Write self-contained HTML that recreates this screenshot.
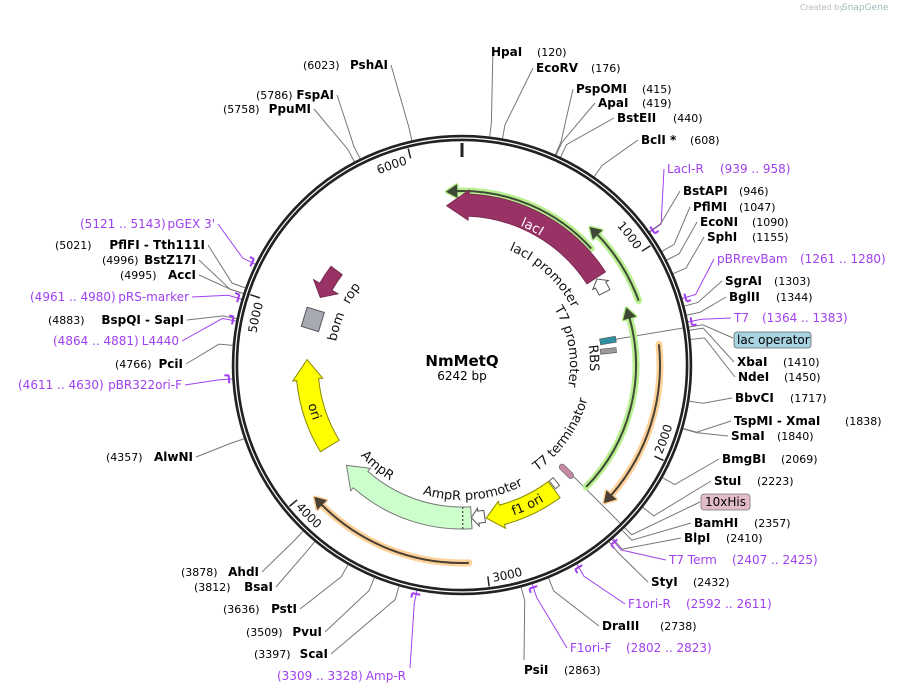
<!DOCTYPE html>
<html><head><meta charset="utf-8"><style>
html,body{margin:0;padding:0;background:#fff;}
svg{display:block;font-family:"DejaVu Sans","Liberation Sans",sans-serif;}
.b{font-weight:bold;font-size:12px;fill:#000;}
.n{font-size:11px;fill:#000;}
.p{font-size:12px;fill:#a040f0;}
.f{font-size:13px;fill:#111;}
.t{font-size:12px;fill:#111;}
</style></head><body>
<svg id="s" width="898" height="694" viewBox="0 0 898 694" xmlns="http://www.w3.org/2000/svg">
<defs id="d"></defs>
<g id="lines"></g>
<g id="feat"></g>
<circle cx="462" cy="365" r="227" fill="none" stroke="#222" stroke-width="6.5"/>
<circle cx="462" cy="365" r="227" fill="none" stroke="#fff" stroke-width="1.2"/>
<g id="ticks"></g>
<g id="marks"></g>
<text x="800" y="10" font-size="8" fill="#bbb">Created by</text><text x="842" y="10" font-size="9" fill="#9bb">SnapGene</text>
<text x="462" y="366" text-anchor="middle" font-weight="bold" font-size="15">NmMetQ</text>
<text x="462" y="380" text-anchor="middle" font-size="12">6242 bp</text>

<text class="t"><textPath href="#tk1" startOffset="100%" text-anchor="end">1000</textPath></text>
<text class="t"><textPath href="#tk6" startOffset="100%" text-anchor="end">6000</textPath></text>
<text class="t"><textPath href="#tk5" startOffset="100%" text-anchor="end">5000</textPath></text>
<text class="t"><textPath href="#tk2">2000</textPath></text>
<text class="t"><textPath href="#tk3">3000</textPath></text>
<text class="t"><textPath href="#tk4">4000</textPath></text>

<text class="f" style="fill:#fff"><textPath href="#lp_lacI" startOffset="50%" text-anchor="middle">lacI</textPath></text>
<text class="f"><textPath href="#lp_lacp" startOffset="50%" text-anchor="middle">lacI promoter</textPath></text>
<text class="f"><textPath href="#lp_t7p" startOffset="50%" text-anchor="middle">T7 promoter</textPath></text>
<text class="f"><textPath href="#lp_rbs" startOffset="50%" text-anchor="middle">RBS</textPath></text>
<text class="f"><textPath href="#lp_t7t" startOffset="50%" text-anchor="middle">T7 terminator</textPath></text>
<text class="f"><textPath href="#lp_ampp" startOffset="50%" text-anchor="middle">AmpR promoter</textPath></text>
<text class="f"><textPath href="#lp_amp" startOffset="50%" text-anchor="middle">AmpR</textPath></text>
<text class="f"><textPath href="#lp_f1" startOffset="50%" text-anchor="middle">f1 ori</textPath></text>
<text class="f"><textPath href="#lp_ori" startOffset="50%" text-anchor="middle">ori</textPath></text>
<text class="f"><textPath href="#lp_bom" startOffset="50%" text-anchor="middle">bom</textPath></text>
<text class="f"><textPath href="#lp_rop" startOffset="50%" text-anchor="middle">rop</textPath></text>

<text class="b" x="491" y="56">HpaI</text><text class="n" x="537" y="56">(120)</text>
<text class="b" x="536" y="72">EcoRV</text><text class="n" x="591" y="72">(176)</text>
<text class="b" x="576" y="93">PspOMI</text><text class="n" x="642" y="93">(415)</text>
<text class="b" x="598" y="107">ApaI</text><text class="n" x="642" y="107">(419)</text>
<text class="b" x="617" y="122">BstEII</text><text class="n" x="673" y="122">(440)</text>
<text class="b" x="641" y="144">BclI *</text><text class="n" x="690" y="144">(608)</text>
<text class="p" x="667" y="173">LacI-R</text><text class="p" x="720" y="173">(939 .. 958)</text>
<text class="b" x="683" y="195">BstAPI</text><text class="n" x="739" y="195">(946)</text>
<text class="b" x="693" y="211">PflMI</text><text class="n" x="739" y="211">(1047)</text>
<text class="b" x="700" y="226">EcoNI</text><text class="n" x="752" y="226">(1090)</text>
<text class="b" x="707" y="241">SphI</text><text class="n" x="752" y="241">(1155)</text>
<text class="p" x="717" y="263">pBRrevBam</text><text class="p" x="800" y="263">(1261 .. 1280)</text>
<text class="b" x="725" y="285">SgrAI</text><text class="n" x="774" y="285">(1303)</text>
<text class="b" x="729" y="301">BglII</text><text class="n" x="776" y="301">(1344)</text>
<text class="p" x="734" y="322">T7</text><text class="p" x="762" y="322">(1364 .. 1383)</text>
<rect x="734" y="332" width="77" height="16" rx="3" fill="#a8d3e0" stroke="#666" stroke-width="0.8"/>
<text x="737" y="344" font-size="12">lac operator</text>
<text class="b" x="737" y="366">XbaI</text><text class="n" x="783" y="366">(1410)</text>
<text class="b" x="738" y="381">NdeI</text><text class="n" x="784" y="381">(1450)</text>
<text class="b" x="735" y="402">BbvCI</text><text class="n" x="790" y="402">(1717)</text>
<text class="b" x="734" y="425">TspMI - XmaI</text><text class="n" x="845" y="425">(1838)</text>
<text class="b" x="731" y="440">SmaI</text><text class="n" x="777" y="440">(1840)</text>
<text class="b" x="722" y="463">BmgBI</text><text class="n" x="781" y="463">(2069)</text>
<text class="b" x="714" y="485">StuI</text><text class="n" x="757" y="485">(2223)</text>
<rect x="701" y="494" width="49" height="16" rx="3" fill="#e3bccb" stroke="#777" stroke-width="0.8"/>
<text x="705" y="506" font-size="12">10xHis</text>
<text class="b" x="694" y="527">BamHI</text><text class="n" x="754" y="527">(2357)</text>
<text class="b" x="684" y="542">BlpI</text><text class="n" x="726" y="542">(2410)</text>
<text class="p" x="669" y="564">T7 Term</text><text class="p" x="732" y="564">(2407 .. 2425)</text>
<text class="b" x="651" y="586">StyI</text><text class="n" x="693" y="586">(2432)</text>
<text class="p" x="628" y="608">F1ori-R</text><text class="p" x="686" y="608">(2592 .. 2611)</text>
<text class="b" x="602" y="630">DraIII</text><text class="n" x="660" y="630">(2738)</text>
<text class="p" x="570" y="652">F1ori-F</text><text class="p" x="626" y="652">(2802 .. 2823)</text>
<text class="b" x="524" y="674">PsiI</text><text class="n" x="564" y="674">(2863)</text>

<text class="n" x="303" y="69">(6023)</text><text class="b" x="388" y="69" text-anchor="end">PshAI</text>
<text class="n" x="256" y="99">(5786)</text><text class="b" x="334" y="99" text-anchor="end">FspAI</text>
<text class="n" x="223" y="113">(5758)</text><text class="b" x="311" y="113" text-anchor="end">PpuMI</text>
<text class="p" x="80" y="228">(5121 .. 5143)</text><text class="p" x="215" y="228" text-anchor="end">pGEX 3'</text>
<text class="n" x="55" y="249">(5021)</text><text class="b" x="205" y="249" text-anchor="end">PflFI - Tth111I</text>
<text class="n" x="102" y="264">(4996)</text><text class="b" x="196" y="264" text-anchor="end">BstZ17I</text>
<text class="n" x="120" y="279">(4995)</text><text class="b" x="196" y="279" text-anchor="end">AccI</text>
<text class="p" x="30" y="301">(4961 .. 4980)</text><text class="p" x="189" y="301" text-anchor="end">pRS-marker</text>
<text class="n" x="48" y="324">(4883)</text><text class="b" x="184" y="324" text-anchor="end">BspQI - SapI</text>
<text class="p" x="53" y="345">(4864 .. 4881)</text><text class="p" x="179" y="345" text-anchor="end">L4440</text>
<text class="n" x="115" y="368">(4766)</text><text class="b" x="183" y="368" text-anchor="end">PciI</text>
<text class="p" x="18" y="389">(4611 .. 4630)</text><text class="p" x="182" y="389" text-anchor="end">pBR322ori-F</text>
<text class="n" x="106" y="461">(4357)</text><text class="b" x="193" y="461" text-anchor="end">AlwNI</text>
<text class="n" x="181" y="576">(3878)</text><text class="b" x="259" y="576" text-anchor="end">AhdI</text>
<text class="n" x="194" y="591">(3812)</text><text class="b" x="273" y="591" text-anchor="end">BsaI</text>
<text class="n" x="223" y="613">(3636)</text><text class="b" x="297" y="613" text-anchor="end">PstI</text>
<text class="n" x="246" y="636">(3509)</text><text class="b" x="322" y="636" text-anchor="end">PvuI</text>
<text class="n" x="254" y="658">(3397)</text><text class="b" x="328" y="658" text-anchor="end">ScaI</text>
<text class="p" x="277" y="680">(3309 .. 3328)</text><text class="p" x="406" y="680" text-anchor="end">Amp-R</text>
</svg>
<script>
(function(){
var NS="http://www.w3.org/2000/svg",cx=462,cy=365,R=Math.PI/180;
function pt(r,a){return [cx+r*Math.sin(a*R),cy-r*Math.cos(a*R)];}
function P(p){return p[0].toFixed(2)+","+p[1].toFixed(2);}
function arc(r,a1,a2){var s=a2>a1?1:0,l=Math.abs(a2-a1)>180?1:0;return "M"+P(pt(r,a1))+" A"+r+" "+r+" 0 "+l+" "+s+" "+P(pt(r,a2));}
function el(g,tag,at){var e=document.createElementNS(NS,tag);for(var k in at)e.setAttribute(k,at[k]);document.getElementById(g).appendChild(e);return e;}
function defp(id,r,a1,a2){el("d","path",{id:id,d:arc(r,a1,a2)});}
function arrow(r,w,hw,aT,aH,hl,fill,stroke,g){
 var dir=aH>aT?1:-1,hd=hl/r/R,aN=aH-dir*hd,s=dir>0?1:0,ls=Math.abs(aN-aT)>180?1:0;
 var d="M"+P(pt(r+w/2,aT))+" A"+(r+w/2)+" "+(r+w/2)+" 0 "+ls+" "+s+" "+P(pt(r+w/2,aN))+
 " L"+P(pt(r+hw/2,aN))+" L"+P(pt(r,aH))+" L"+P(pt(r-hw/2,aN))+" L"+P(pt(r-w/2,aN))+
 " A"+(r-w/2)+" "+(r-w/2)+" 0 "+ls+" "+(1-s)+" "+P(pt(r-w/2,aT))+" Z";
 el(g||"feat","path",{d:d,fill:fill,stroke:stroke,"stroke-width":1});
}
function larrow(r,aT,aH,glow,col){
 var dir=aH>aT?1:-1,hd=10/r/R,aN=aH-dir*hd;
 var tri="M"+P(pt(r+6,aN))+" L"+P(pt(r,aH))+" L"+P(pt(r-6,aN))+" Z";
 el("feat","path",{d:arc(r,aT,aN),fill:"none",stroke:glow,"stroke-width":7,"stroke-linecap":"round"});
 el("feat","path",{d:tri,fill:glow,stroke:glow,"stroke-width":4,"stroke-linejoin":"round"});
 el("feat","path",{d:arc(r,aT,aN),fill:"none",stroke:col,"stroke-width":2});
 el("feat","path",{d:tri,fill:col,stroke:col,"stroke-width":1});
}
larrow(174,48,-5,"#b9ef90","#3f4a36");
larrow(188,70,43,"#b9ef90","#3f4a36");
larrow(174,134.5,71,"#b9ef90","#3f4a36");
larrow(198,84,134,"#fdd29a","#4a3f33");
larrow(198,178,228,"#fdd29a","#4a3f33");
arrow(160,22,30,57,-5.5,22,"#993366","#7a2850");
arrow(160,12,18,63,57.5,7,"#fff","#555");
arrow(155,20,28,143.5,171,16,"#ffff00","#888800");
arrow(153,12,18,171.5,176.5,7,"#fff","#555");
arrow(153,22,30,176.5,229,20,"#ccffcc","#777");
el("feat","path",{d:"M"+P(pt(142,179.7))+" L"+P(pt(164,179.7)),stroke:"#222","stroke-width":1,"stroke-dasharray":"2,2"});
arrow(155,22,30,238.5,272,20,"#ffff00","#888800");
arrow(157,14,28,307,295.5,12,"#993366","#7a2850");
arrow(150,10,10,141,143,0.1,"#fff","#666");
(function(){var c=pt(156,287);el("feat","rect",{x:c[0]-9,y:c[1]-10,width:18,height:20,fill:"#a6aab2",stroke:"#555","stroke-width":1,transform:"rotate(17 "+c[0]+" "+c[1]+")"});})();
(function(){var c=pt(148,80.5);el("feat","rect",{x:c[0]-3,y:c[1]-8,width:6,height:16,fill:"#2f8fa0",stroke:"#555","stroke-width":0.6,transform:"rotate(80 "+c[0]+" "+c[1]+")"});
c=pt(147,84.5);el("feat","rect",{x:c[0]-2.5,y:c[1]-8,width:5,height:16,fill:"#999",stroke:"#555","stroke-width":0.6,transform:"rotate(84 "+c[0]+" "+c[1]+")"});
c=pt(149,135.5);el("feat","rect",{x:c[0]-3,y:c[1]-9,width:6,height:18,rx:3,fill:"#c48aa6",stroke:"#666","stroke-width":0.6,transform:"rotate(135 "+c[0]+" "+c[1]+")"});})();
el("ticks","path",{d:"M"+P(pt(208,0))+" L"+P(pt(222,0)),stroke:"#222","stroke-width":3});
[1000,2000,3000,4000,5000,6000].forEach(function(b){var a=b/6242*360;el("ticks","path",{d:"M"+P(pt(213,a))+" L"+P(pt(223,a)),stroke:"#222","stroke-width":1.5});});
function ta(b){return b/6242*360;}
defp("tk1",208,ta(1000)-30,ta(1000)-1.2);
defp("tk6",208,ta(6000)-30,ta(6000)-1.2);
defp("tk5",208,ta(5000)-30,ta(5000)-1.2);
defp("tk2",219,ta(2000)-1.2,ta(2000)-30);
defp("tk3",219,ta(3000)-1.2,ta(3000)-30);
defp("tk4",219,ta(4000)-1.2,ta(4000)-30);
defp("lp_lacI",151,5,49);
defp("lp_lacp",124,20,65);
defp("lp_t7p",108,50,110);
defp("lp_rbs",128,77,97);
defp("lp_t7t",130,150,100);
defp("lp_ampp",135,200,150);
defp("lp_amp",136,240,200);
defp("lp_f1",159,175,135);
defp("lp_ori",159,275,230);
defp("lp_bom",128,272,302);
defp("lp_rop",128,288,318);
var G="#777",V="#a040f0";
var L=[[6.92,493,47,G],[10.15,533,68,G],[23.93,573,89,G],[24.16,595,103,G],[25.38,614,118,G],[35.07,638,140,G],
[54.7,664,169,V],[54.56,680,191,G],[60.38,690,207,G],[62.87,697,222,G],[66.61,704,237,G],[73.2,714,259,V],
[75.15,722,281,G],[77.51,726,297,G],[79.2,731,318,V],[81.32,734,362,G],[83.62,735,377,G],[99.03,732,398,G],
[106,731,421,G],[106.1,728,436,G],[119.33,719,459,G],[128.2,711,481,G],[135.9,691,523,G],[139,681,538,G],
[139.3,666,560,V],[140.26,648,582,G],[150,625,604,V],[157.9,599,626,G],[162.2,567,648,V],[165.1,524,660,G],
[347.4,391,65,G],[333.7,337,95,G],[332.1,314,109,G],[296,218,224,V],[289.6,208,245,G],[288.1,199,260,G],[288.1,199,275,G],
[286.6,192,297,V],[281.6,187,320,G],[281,182,341,V],[274.9,186,364,G],[266.5,185,385,V],[251.3,196,457,G],
[223.7,262,572,G],[219.8,276,587,G],[209.7,300,609,G],[202.4,325,632,G],[195.9,331,654,G],[191.3,410,668,V]];
L.forEach(function(l){var p0=pt(230,l[0]),p1=pt(244,l[0]);
 el("lines","polyline",{points:l[1]+","+l[2]+" "+P(p1)+" "+P(p0),fill:"none",stroke:l[3],"stroke-width":1});
 if(l[3]==V){var a=l[0];el("marks","path",{d:arc(233.5,a-1,a+1)+" M"+P(pt(233.5,a+1))+" L"+P(pt(238,a+1)),fill:"none",stroke:V,"stroke-width":2});}
});
el("lines","polyline",{points:P(pt(150,80.5))+" "+P(pt(244,80.5))+" 733,338",fill:"none",stroke:G,"stroke-width":1});
el("lines","polyline",{points:P(pt(152,135))+" "+P(pt(240,135))+" 700,502",fill:"none",stroke:G,"stroke-width":1});
})();
</script>
</body></html>
